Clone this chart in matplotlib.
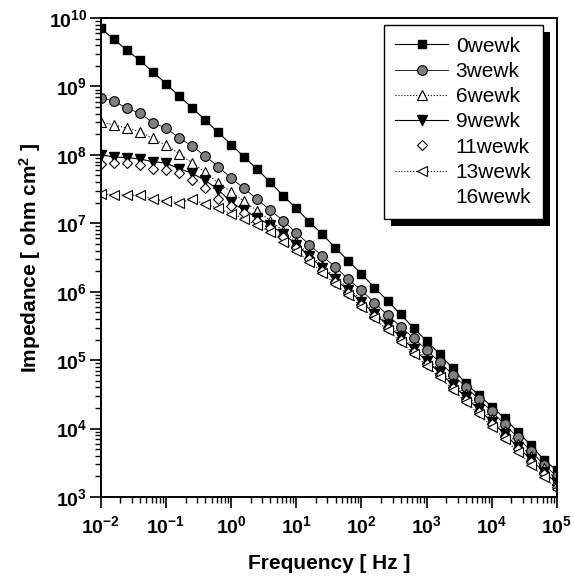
import numpy as np
import matplotlib
matplotlib.use("Agg")
from matplotlib import pyplot as plt
from matplotlib.patches import Rectangle
from matplotlib.transforms import IdentityTransform
from matplotlib.ticker import FuncFormatter, NullFormatter

plt.rcParams['font.family'] = ['Liberation Sans', 'DejaVu Sans']
plt.rcParams['mathtext.fontset'] = 'custom'
plt.rcParams['mathtext.default'] = 'rm'
plt.rcParams['mathtext.rm'] = 'Liberation Sans:bold'
plt.rcParams['mathtext.it'] = 'Liberation Sans:bold'
plt.rcParams['mathtext.bf'] = 'Liberation Sans:bold'

# frequency grid [Hz], 5 points per decade
freq = [0.01, 0.0158, 0.0251, 0.0398, 0.0631,
        0.1, 0.158, 0.251, 0.398, 0.631,
        1.0, 1.58, 2.51, 3.98, 6.31,
        10.0, 15.8, 25.1, 39.8, 63.1,
        100.0, 158.0, 251.0, 398.0, 631.0,
        1000.0, 1580.0, 2510.0, 3980.0, 6310.0,
        1e4, 1.58e4, 2.51e4, 3.98e4, 6.31e4, 1e5]

# log10 of |Z| [ohm cm2]
logz_0w = [9.85, 9.69, 9.53, 9.38, 9.21, 9.04, 8.86, 8.69, 8.51, 8.33,
           8.15, 7.97, 7.79, 7.60, 7.40, 7.22, 7.02, 6.84, 6.64, 6.45,
           6.26, 6.06, 5.87, 5.67, 5.47, 5.28, 5.09, 4.88, 4.66, 4.49,
           4.32, 4.15, 3.95, 3.76, 3.54, 3.39]
logz_3w = [8.83, 8.79, 8.68, 8.61, 8.47, 8.39, 8.25, 8.13, 7.98, 7.83,
           7.66, 7.51, 7.35, 7.19, 7.04, 6.86, 6.69, 6.52, 6.36, 6.18,
           6.02, 5.84, 5.66, 5.49, 5.32, 5.15, 4.97, 4.79, 4.61, 4.43,
           4.25, 4.06, 3.87, 3.67, 3.47, 3.30]
logz_6w = [8.48, 8.44, 8.39, 8.34, 8.24, 8.14, 8.02, 7.88, 7.75, 7.59,
           7.46, 7.32, 7.18, 7.04, 6.89, 6.72, 6.55, 6.38, 6.21, 6.05,
           5.88, 5.71, 5.54, 5.37, 5.19, 5.02, 4.85, 4.67, 4.50, 4.32,
           4.14, 3.96, 3.78, 3.60, 3.42, 3.25]
logz_9w = [8.00, 7.97, 7.96, 7.94, 7.90, 7.88, 7.80, 7.73, 7.63, 7.49,
           7.31, 7.19, 7.08, 6.97, 6.85, 6.69, 6.52, 6.35, 6.18, 6.02,
           5.85, 5.68, 5.51, 5.34, 5.16, 4.99, 4.82, 4.64, 4.46, 4.28,
           4.10, 3.92, 3.73, 3.55, 3.37, 3.20]
logz_11w = [7.87, 7.88, 7.88, 7.85, 7.79, 7.78, 7.73, 7.64, 7.51, 7.35,
            7.26, 7.15, 7.04, 6.93, 6.80, 6.64, 6.48, 6.31, 6.14, 5.98,
            5.81, 5.64, 5.47, 5.30, 5.12, 4.95, 4.78, 4.60, 4.42, 4.24,
            4.06, 3.88, 3.70, 3.51, 3.33, 3.15]
logz_13w = [7.43, 7.42, 7.41, 7.41, 7.35, 7.33, 7.30, 7.35, 7.28, 7.22,
            7.14, 7.07, 6.97, 6.88, 6.73, 6.60, 6.44, 6.28, 6.11, 5.95,
            5.78, 5.61, 5.44, 5.27, 5.09, 4.92, 4.75, 4.57, 4.39, 4.21,
            4.03, 3.85, 3.66, 3.47, 3.29, 3.12]

fig = plt.figure(figsize=(5.73, 5.83), dpi=100)
ax = fig.add_axes([0.176, 0.1475, 0.796, 0.8216])

f = np.array(freq)
ax.plot(f, 10 ** np.array(logz_0w), ls='-', color='black', lw=0.8,
        marker='s', ms=6, mfc='black', mec='black', label='0wewk')
ax.plot(f, 10 ** np.array(logz_3w), ls='-', color='black', lw=0.6,
        marker='o', ms=7, mfc='#808080', mec='black', mew=0.8, label='3wewk')
ax.plot(f, 10 ** np.array(logz_6w), ls=':', color='black', lw=0.8,
        marker='^', ms=7.5, mfc='white', mec='black', mew=0.8, label='6wewk')
ax.plot(f, 10 ** np.array(logz_9w), ls='-', color='black', lw=0.8,
        marker='v', ms=7.5, mfc='black', mec='black', label='9wewk')
ax.plot(f, 10 ** np.array(logz_11w), ls='none', color='black',
        marker='D', ms=5.5, mfc='white', mec='black', mew=0.8, label='11wewk')
ax.plot(f, 10 ** np.array(logz_13w), ls=':', color='black', lw=0.8,
        marker='<', ms=7.5, mfc='white', mec='black', mew=0.8, label='13wewk')
ax.plot([], [], ls='none', label='16wewk')

ax.set_xscale('log')
ax.set_yscale('log')
ax.set_xlim(1e-2, 1e5)
ax.set_ylim(1e3, 1e10)

pow10 = FuncFormatter(lambda v, pos: '$10^{%d}$' % round(np.log10(v)))
ax.xaxis.set_major_formatter(pow10)
ax.yaxis.set_major_formatter(pow10)
ax.xaxis.set_minor_formatter(NullFormatter())
ax.yaxis.set_minor_formatter(NullFormatter())

for s in ax.spines.values():
    s.set_linewidth(1.4)
ax.tick_params(which='major', direction='out', length=8, width=1.2,
               labelsize=14)
ax.tick_params(axis='y', which='major', pad=2)
ax.tick_params(axis='x', which='major', pad=5)
ax.tick_params(which='minor', direction='out', length=4.5, width=1.0)
ax.tick_params(top=False, right=False, which='both')

ax.set_xlabel('Frequency [ Hz ]', fontsize=15, fontweight='bold', labelpad=12)
ax.set_ylabel('Impedance [ ohm cm$^2$ ]', fontsize=15, fontweight='bold',
              labelpad=4)

leg = ax.legend(loc='upper right', bbox_to_anchor=(0.969, 0.985),
                borderaxespad=0, fontsize=15, handlelength=2.55,
                handletextpad=0.35, labelspacing=0.3, fancybox=False,
                framealpha=1, edgecolor='black', borderpad=0.55)
leg.get_frame().set_linewidth(1.0)

# black drop shadow behind the legend box
fig.canvas.draw()
bb = leg.get_window_extent()
shadow = Rectangle((bb.x0 + 7, bb.y0 - 7), bb.width, bb.height,
                   transform=IdentityTransform(), facecolor='black',
                   edgecolor='none', zorder=leg.get_zorder() - 0.1)
ax.add_artist(shadow)

fig.savefig('out.png', dpi=100)
